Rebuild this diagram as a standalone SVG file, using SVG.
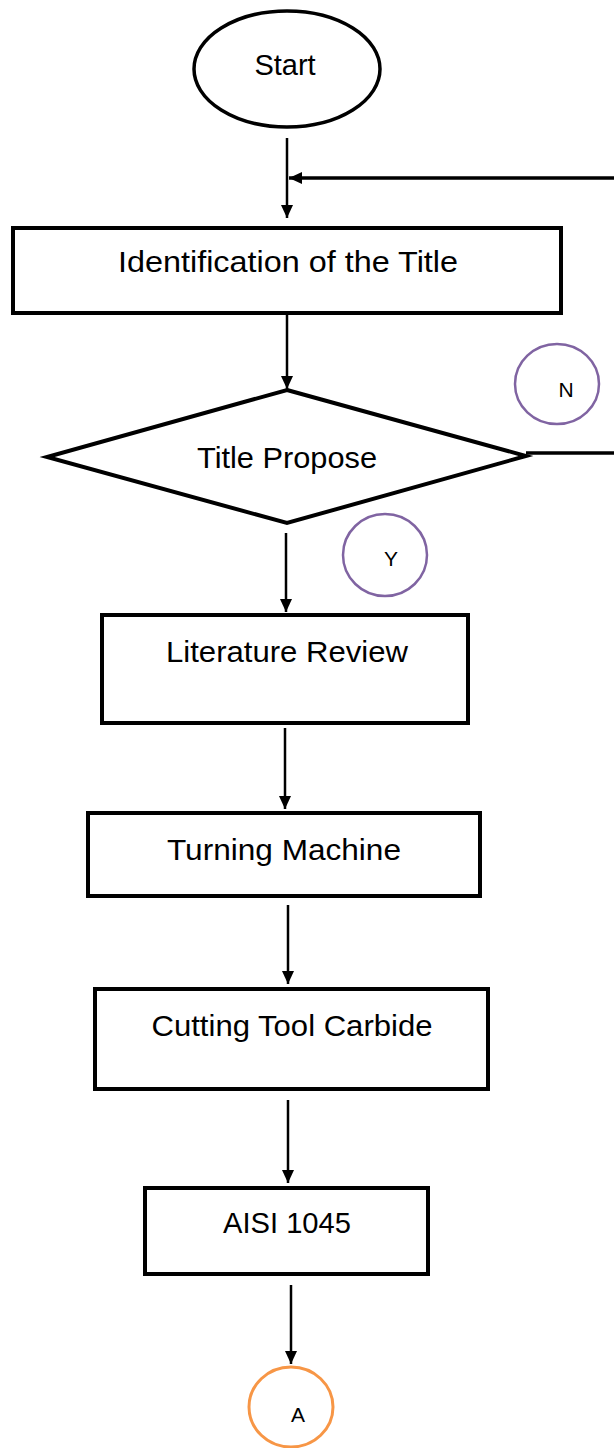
<svg xmlns="http://www.w3.org/2000/svg" width="614" height="1448" viewBox="0 0 614 1448">
<style>
.shape{fill:#ffffff;stroke:#000000;stroke-width:4}
.term{fill:#ffffff;stroke:#000000;stroke-width:3.5}
.conn{fill:none;stroke:#000000;stroke-width:2.5}
.fb{fill:none;stroke:#000000;stroke-width:3.5}
.lbl{font-family:"Liberation Sans",Arial,sans-serif;font-size:29px;fill:#000000;text-anchor:middle}
.small{font-family:"Liberation Sans",Arial,sans-serif;font-size:21px;fill:#000000;text-anchor:middle}
.purple{fill:#ffffff;stroke:#8064A2;stroke-width:2.5}
.orange{fill:#ffffff;stroke:#F79646;stroke-width:3}
</style>
<defs>
<marker id="ah" markerWidth="14" markerHeight="14" refX="13" refY="7" orient="auto" markerUnits="userSpaceOnUse">
<path d="M0,1 L13,7 L0,13 z" fill="#000000"/>
</marker>
</defs>
<rect x="0" y="0" width="614" height="1448" fill="#ffffff"/>
<g id="connectors">
<line class="conn" x1="287" y1="138" x2="287" y2="218" marker-end="url(#ah)"/>
<line class="fb" x1="614" y1="178" x2="289" y2="178" marker-end="url(#ah)"/>
<line class="conn" x1="287" y1="315" x2="287" y2="389" marker-end="url(#ah)"/>
<line class="fb" x1="526" y1="453" x2="614" y2="453"/>
<line class="conn" x1="286" y1="533" x2="286" y2="612" marker-end="url(#ah)"/>
<line class="conn" x1="285" y1="728" x2="285" y2="809" marker-end="url(#ah)"/>
<line class="conn" x1="288" y1="905" x2="288" y2="984" marker-end="url(#ah)"/>
<line class="conn" x1="288" y1="1100" x2="288" y2="1183" marker-end="url(#ah)"/>
<line class="conn" x1="291" y1="1285" x2="291" y2="1364" marker-end="url(#ah)"/>
</g>
<g id="start">
<ellipse class="term" cx="287" cy="69" rx="93" ry="58"/>
<text class="lbl" x="285" y="75">Start</text>
</g>
<g id="identification">
<rect class="shape" x="13" y="228" width="548" height="85"/>
<text class="lbl" x="288" y="272" textLength="340" lengthAdjust="spacingAndGlyphs">Identification of the Title</text>
</g>
<g id="title-propose">
<polygon class="shape" points="287,390 526,456 287,523 47,457"/>
<text class="lbl" x="287" y="468" textLength="180" lengthAdjust="spacingAndGlyphs">Title Propose</text>
</g>
<g id="n-label">
<ellipse class="purple" cx="557" cy="384" rx="42" ry="40"/>
<text class="small" x="566" y="397">N</text>
</g>
<g id="y-label">
<ellipse class="purple" cx="385" cy="555" rx="42" ry="41"/>
<text class="small" x="391" y="566">Y</text>
</g>
<g id="literature">
<rect class="shape" x="102" y="615" width="366" height="108"/>
<text class="lbl" x="287" y="662" textLength="242" lengthAdjust="spacingAndGlyphs">Literature Review</text>
</g>
<g id="turning">
<rect class="shape" x="88" y="813" width="392" height="83"/>
<text class="lbl" x="284" y="860" textLength="234" lengthAdjust="spacingAndGlyphs">Turning Machine</text>
</g>
<g id="cutting">
<rect class="shape" x="95" y="989" width="393" height="100"/>
<text class="lbl" x="292" y="1036" textLength="281" lengthAdjust="spacingAndGlyphs">Cutting Tool Carbide</text>
</g>
<g id="aisi">
<rect class="shape" x="145" y="1188" width="283" height="86"/>
<text class="lbl" x="287" y="1233" textLength="128" lengthAdjust="spacingAndGlyphs">AISI 1045</text>
</g>
<g id="connector-a">
<ellipse class="orange" cx="291" cy="1407" rx="42" ry="40"/>
<text class="small" x="298" y="1422">A</text>
</g>
</svg>
